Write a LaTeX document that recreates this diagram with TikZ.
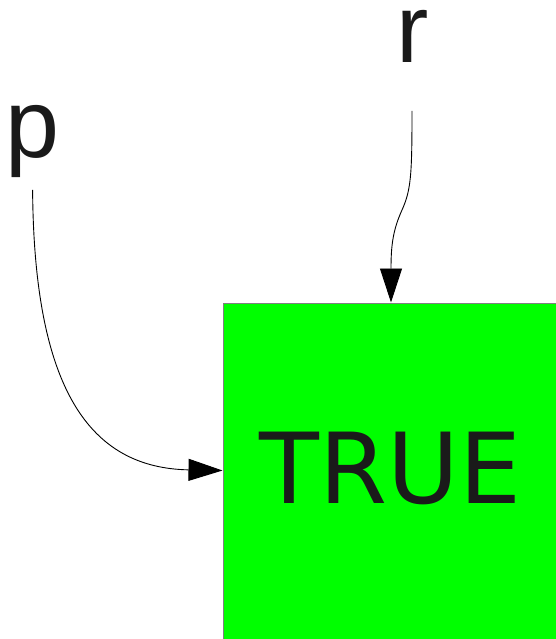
\documentclass[tikz,border=0pt]{standalone}
\usepackage{fontspec}
\setmainfont{DejaVu Sans}
\newfontfamily\labelfont{Liberation Sans}
\usepackage{xcolor}
\usetikzlibrary{arrows.meta, positioning}
\definecolor{inkgray}{HTML}{1A1A1A}
\definecolor{boxgreen}{HTML}{00FF00}

\begin{document}
\begin{tikzpicture}[x=1pt, y=-1pt,
    varlabel/.style={text=inkgray, inner sep=0pt, font=\labelfont\fontsize{97}{97}\selectfont},
    wire/.style={line width=0.9pt, -{Triangle[length=34pt, width=22pt]}}]
    \useasboundingbox (0,0) rectangle (556,639);
    \clip (0,0) rectangle (556,639);
    % Value box
    \node (truebox) [draw=gray, line width=1pt, fill=boxgreen, anchor=north west,
        minimum width=336pt, minimum height=345pt] at (222.5,302.5) {};
    \node (truetext) [anchor=base, text=inkgray, inner sep=0pt,
        font=\fontsize{98}{98}\selectfont] at (390.5,503) {TRUE};
    
    % Inputs
    \node (p) [varlabel, anchor=base] at (32.6,158) {p};
    \node (r) [varlabel, anchor=base] at (412.8,63) {r};
    \coordinate (ptail) at ([yshift=-11.5pt]p.south);
    \coordinate (rtail) at ([xshift=-0.8pt, yshift=-48pt]r.base);
    
    \draw[wire] (ptail) .. controls (34,390) and (90,468) .. ([yshift=-168pt]truebox.north west);
    \draw[wire] (rtail) .. controls (412,175) and (411,190) .. (402,210)
        .. controls (393,230) and (391,245) .. ([xshift=168.5pt]truebox.north west);
\end{tikzpicture}
\end{document}
